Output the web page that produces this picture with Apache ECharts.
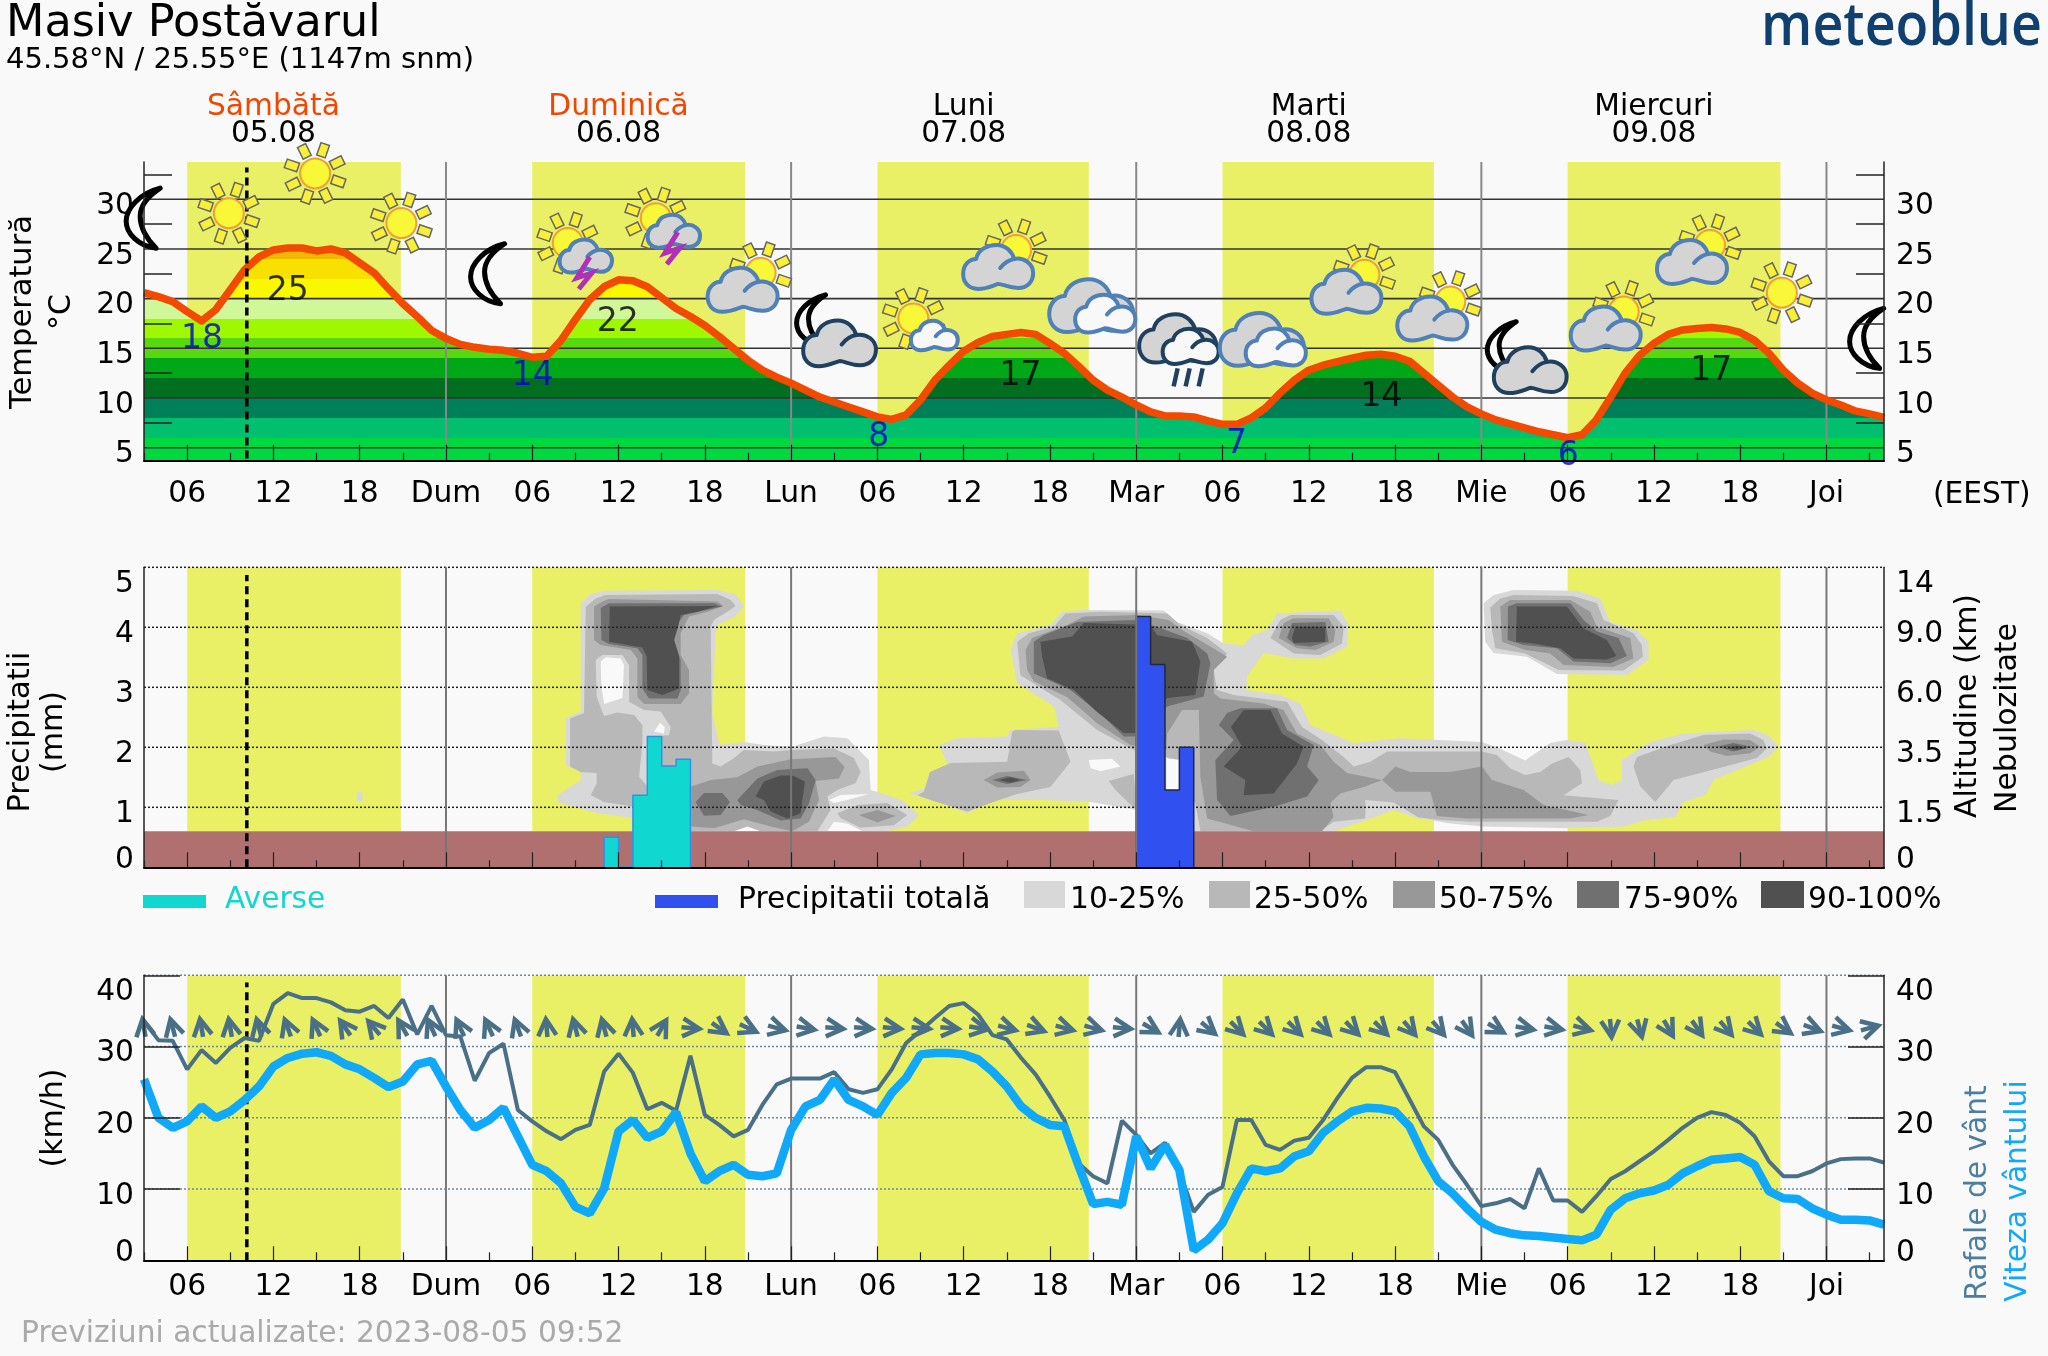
<!DOCTYPE html>
<html><head><meta charset="utf-8">
<style>html,body{margin:0;padding:0;background:#f9f9f9}#c{width:2048px;height:1356px}</style>
<script src="https://cdn.jsdelivr.net/npm/echarts@6/dist/echarts.min.js"></script>
</head><body><div id="c"></div>
<script>
// ---------- time axis ----------
const hours = [];
for (let h = 3; h <= 124; h++) hours.push(h);
const tickLong = [6,12,18,24,30,36,42,48,54,60,66,72,78,84,90,96,102,108,114,120];
const tickShort = [3,9,15,21,27,33,39,45,51,57,63,69,75,81,87,93,99,105,111,117,123];
const hourLabels = {0:'Dum',1:'Lun',2:'Mar',3:'Mie',4:'Joi'};
const midnights = [24,48,72,96,120];
const dayStart = [6,30,54,78,102];
const dayEnd = [20.86,44.8,68.7,92.7,116.8];
const nowHour = 10.15;
const dayHours = [12,36,60,84,108];
const dayNames = ['Sâmbătă','Duminică','Luni','Marti','Miercuri'];
const dayDates = ['05.08','06.08','07.08','08.08','09.08'];
const weekend = [true,true,false,false,false];

// ---------- temperature ----------
const temperature = [
20.6,20.2,19.7,18.7,17.75,18.9,20.9,22.9,24.2,24.9,
25.1,25.1,24.8,25,24.6,23.6,22.6,21,19.5,18.2,
16.8,16,15.4,15.1,14.9,14.8,14.5,14.1,14.2,15.8,
17.9,19.9,21.2,21.9,21.8,21.2,20.1,19,18.2,17.3,
16.2,15,13.8,12.8,12.1,11.5,10.8,10.1,9.6,9.1,
8.6,8.1,7.85,8.3,9.8,11.8,13.3,14.7,15.6,16.2,
16.4,16.6,16.4,15.5,14.5,13.2,11.8,10.8,10.1,9.3,
8.6,8.2,8.2,8.1,7.7,7.35,7.35,8,9,10.5,
11.8,12.8,13.3,13.65,14,14.3,14.4,14.2,13.7,12.5,
11.3,10.1,9.1,8.4,7.8,7.4,7,6.6,6.3,6,
6.3,7.8,10.1,12.5,14.3,15.5,16.4,16.85,17,17.1,
16.95,16.6,15.8,14.5,12.8,11.5,10.5,9.8,9.3,8.7,8.4,8.05];
const tempTicks = [5,10,15,20,25,30];
const tempMinor = [7.5,12.5,17.5,22.5,27.5,32.5];
const tempBandEdges = [-10,6,8,10,12,14,16,18,20,22,24,40];
const tempBandColors = ['#00d840','#00c070','#008058','#007020','#00a818','#58d810','#a0f800','#d0f898','#f8f800','#f8e000','#f0b800'];
const minLabels = [[7.03,15.9,'18'],[30.04,12.2,'14'],[54.1,6.0,'8'],[78.97,5.3,'7'],[102.05,4.1,'6']];
const maxLabels = [[13,20.7,'25'],[35.95,17.6,'22'],[63.95,12.15,'17'],[89.05,10.05,'14'],[111.98,12.65,'17']];
const iconHours = [3.15,8.9,14.9,20.9,27.1,32.47,38.59,45.88,51.37,56.5,63.65,68.94,74.95,80.8,87.87,93.84,99.4,105.9,111.9,116.9,123];
const iconTemps = [28.1,28.6,32.6,27.6,22.5,25.6,28.1,22.6,15.5,18,24.9,19.3,16,15.9,22.4,19.7,12.8,18.7,25.4,20.6,16];
const iconKinds = ['moon','sun','sun','sun','moon','storm','storm','sunCloud','moonCloud','sunWhite','sunCloud','twoClouds','rain','twoClouds','sunCloud','sunCloud','moonCloud','sunCloud','sunCloud','sun','moon'];

// ---------- precipitation ----------
const precipTicks = [0,1,2,3,4,5];
const precipRight = ['0','1.5','3.5','6.0','9.0','14'];
const groundTop = 0.6;
const showers = [[35,0],[35,0.5],[36,0],[37,0],[37,1.2],[38,2.18],[39,1.69],[40,1.8],[41,0]];
const totals = [[72,0],[72,4.18],[73,3.38],[74,1.29],[75,2.0],[76,0]];

// cloud cover contours: [hour, level on the 0-5 scale]
const cloud10 = [
 [[33.37,4.4],[34.07,4.555],[34.99,4.61],[42.87,4.62],[44.14,4.555],[44.72,4.345],[44.14,4.18],[42.87,4.04],[42.75,3.9],[42.52,2.57],[43.03,2.04],[44.72,2.09],[46.11,2.04],[48.08,2.01],[50.28,2.18],[51.91,2.15],[53.41,1.79],[53.53,1.29],[54.69,1.205],[55.84,1.1],[56.89,0.87],[56.08,0.68],[54.69,0.6],[37.08,0.6],[37.08,0.82],[34.53,0.9],[31.75,1.09],[31.75,1.2],[33.37,1.455],[33.37,1.59],[32.33,1.7],[32.33,2.48],[33.37,2.6]],
 [[56.19,1.23],[57.58,1.34],[57.7,1.59],[58.97,1.68],[58.28,2.04],[59.55,2.15],[63.03,2.18],[63.26,2.29],[66.61,2.34],[66.27,2.68],[63.72,3.07],[63.26,3.62],[63.72,3.9],[66.04,4.04],[66.85,4.26],[68.35,4.29],[73.91,4.28],[74.84,4.09],[76.93,3.9],[78.08,3.73],[79.47,3.7],[80.05,3.87],[81.1,3.955],[81.79,4.23],[86.19,4.28],[86.77,4.04],[86.66,3.68],[85.03,3.48],[82.95,3.48],[80.86,3.57],[79.7,3.18],[79.66,2.955],[82.02,2.87],[83.41,2.73],[84.11,2.37],[87.12,2.07],[90.36,2.15],[96.04,2.09],[97.08,2.0],[99.05,1.78],[100.79,2.07],[101.95,2.12],[103.22,2.08],[104.15,1.455],[105.08,1.37],[105.77,1.455],[105.77,1.79],[107.74,2.09],[110.06,2.23],[114.93,2.29],[115.97,2.2],[116.66,2.01],[115.97,1.84],[112.15,1.455],[111.57,1.2],[110.06,1.09],[109.48,0.84],[107.28,0.78],[106,0.68],[102.18,0.65],[96.16,0.68],[93.84,0.73],[91.52,0.82],[89.9,0.955],[88.05,0.79],[85.73,0.6],[76,0.6],[72.06,0.955],[68.82,1.09],[65.57,1.12],[62.56,1.12],[62.1,1.12],[60.25,0.9],[57.93,1.12]],
 [[96.16,4.4],[96.85,4.54],[98.24,4.62],[102.65,4.61],[104.27,4.48],[104.96,4.09],[106.82,3.955],[107.63,3.76],[107.63,3.455],[106.12,3.205],[101.26,3.22],[99.17,3.51],[96.85,3.57],[96.27,3.76]],
 [[17.8,1.1],[18.2,1.1],[18.2,1.25],[17.8,1.25]]
];
const cloud25 = [
 [[33.72,4.34],[34.41,4.48],[35.11,4.54],[42.87,4.555],[43.8,4.455],[44.14,4.355],[43.56,4.26],[42.64,4.12],[42.41,4.01],[42.52,1.73],[43.1,1.68],[44.03,1.82],[44.72,1.955],[46.81,1.93],[48.08,1.955],[50.98,1.98],[52.37,1.82],[52.83,1.59],[52.48,1.4],[51.21,1.29],[50.52,1.18],[50.75,0.955],[49.82,0.6],[37.08,0.6],[37.08,1.01],[34.99,1.09],[34.07,1.2],[34.48,1.4],[34.48,1.57],[33.37,1.59],[32.63,1.68],[32.63,2.48],[33.6,2.57]],
 [[51.21,0.9],[52.6,1.04],[54.69,1.07],[56.08,0.87],[55.15,0.7],[52.83,0.66],[51.44,0.82]],
 [[56.77,1.2],[57.23,1.26],[57.65,1.59],[59.09,1.74],[63.03,1.76],[63.37,2.26],[63.6,2.29],[66.61,2.28],[67.43,1.76],[66.03,1.34],[63.72,1.22],[62.56,1.13],[60.25,0.93],[57.93,1.1]],
 [[70.09,1.44],[71.83,1.555],[72.06,0.955],[71.48,1.07],[70.55,1.29]],
 [[63.72,3.76],[64.53,3.9],[66.27,4.01],[67.08,4.23],[69.51,4.26],[74.15,4.23],[75.07,4.04],[76.93,3.82],[78.32,3.565],[77.39,3.29],[77.62,2.955],[78.78,2.87],[82.49,2.76],[83.53,2.34],[84.92,2.12],[86.43,1.84],[87.12,1.68],[88.28,1.76],[89.44,1.93],[96.04,1.93],[97.08,1.87],[98.01,1.65],[99.05,1.54],[100.1,1.59],[100.91,1.73],[102.07,1.84],[102.88,1.62],[102.99,1.4],[101.72,1.2],[105.54,1.12],[104.96,0.855],[104.04,0.76],[95.23,0.76],[93.15,0.79],[91.64,0.83],[89.9,1.08],[87.93,1.12],[87.93,0.815],[85.73,0.76],[84.8,0.6],[76.46,0.6],[76.11,1.07],[74.15,1.84],[71.83,1.955],[69.28,2.29],[66.73,2.79],[63.95,3.2]],
 [[81.33,3.82],[82.02,4.12],[82.72,4.205],[85.73,4.205],[86.43,4.01],[86.31,3.73],[84.8,3.54],[82.95,3.565]],
 [[96.62,4.33],[97.32,4.48],[98.24,4.54],[102.41,4.52],[104.04,4.4],[104.5,4.12],[106.59,3.9],[107.16,3.705],[107.23,3.51],[105.89,3.28],[101.37,3.29],[99.05,3.565],[96.97,3.65],[96.74,3.955]],
 [[106.58,1.68],[106.82,1.84],[109.13,2.04],[111.45,2.205],[114.69,2.23],[115.62,2.12],[115.85,1.98],[115.16,1.82],[112.03,1.62],[109.36,1.455],[108.09,1.09],[107.05,1.345]]
];
const cloud10Inner = [
 [[34.41,3.455],[34.88,3.54],[36.27,3.54],[36.73,3.37],[36.73,2.76],[37.77,2.62],[38.93,2.595],[39.63,2.34],[39.51,2.2],[38.05,2.18],[38,1.345],[37.43,1.51],[37.66,2.07],[37.66,2.37],[37.08,2.54],[35.92,2.58],[34.99,2.52],[34.48,2.84]]
];
const cloudClear = [
 [[34.76,3.43],[35.11,3.5],[36.15,3.48],[36.38,3.37],[36.27,2.82],[35,2.72],[34.81,3.01]],
 [[38.47,2.26],[38.89,2.41],[39.21,2.34],[39.16,2.23]],
 [[50.63,1.12],[51.44,1.205],[53.41,1.22],[51.91,1.12],[50.98,1.07]],
 [[50.52,0.6],[50.98,0.76],[51.91,0.73],[52.95,0.6]],
 [[44.03,0.6],[44.96,0.68],[45.88,0.6]],
 [[68.7,1.79],[70.32,1.81],[70.9,1.68],[69.51,1.6],[68.82,1.65]],
 [[74.1,1.82],[75.07,1.79],[75.07,1.29],[74.1,1.29]]
];
const cloud50 = [
 [[34.3,4.345],[34.88,4.43],[35.34,4.47],[42.87,4.43],[43.29,4.355],[42.18,4.26],[40.9,4.18],[40.32,3.9],[40.32,3.54],[40.9,3.29],[40.9,2.9],[40.32,2.72],[37.77,2.72],[37.31,2.84],[37.31,3.48],[36.85,3.62],[34.76,3.705],[34.3,3.79]],
 [[41.06,1.345],[42.41,1.455],[44.26,1.5],[45.65,1.68],[47.97,1.8],[51.09,1.84],[51.72,1.67],[51.33,1.48],[49.71,1.44],[49.94,1.12],[49.24,0.76],[48.08,0.6],[46.58,0.68],[44.72,0.8],[42.64,0.65],[41.06,0.68]],
 [[52.72,0.87],[53.99,0.955],[55.27,0.855],[53.99,0.745]],
 [[61.4,1.455],[62.33,1.58],[64.19,1.61],[64.65,1.455],[63.95,1.34],[62.33,1.33]],
 [[64.3,3.62],[64.76,3.82],[67.19,4.04],[68.35,4.18],[72.06,4.205],[74.26,4.12],[75.19,3.955],[77.16,3.68],[78.32,3.51],[77.39,3.29],[77.39,2.9],[77.85,2.815],[80.86,2.73],[82.25,2.62],[83.18,2.23],[84.8,2.04],[85.73,1.76],[86.66,1.57],[89.09,1.455],[87.82,1.34],[86.19,1.23],[85.5,1.07],[85.73,0.84],[84.92,0.6],[80.17,0.6],[76.93,0.815],[76.46,1.51],[76.35,2.62],[75.19,2.62],[74.15,2.23],[74.1,1.955],[71.6,2.04],[69.28,2.4],[67.19,2.84],[64.88,3.1],[64.41,3.29]],
 [[81.91,3.82],[82.25,4.07],[82.95,4.15],[85.38,4.15],[85.85,3.955],[85.73,3.76],[84.46,3.62],[83.18,3.65]],
 [[89.09,1.455],[90.02,1.68],[91.06,1.59],[93.84,1.59],[96.04,1.68],[96.74,1.455],[98.94,1.29],[100.33,1.04],[103.46,0.87],[102.18,0.815],[95,0.815],[92.91,0.855],[92.45,1.26],[90.02,1.26]],
 [[97.32,4.345],[98.01,4.455],[102.18,4.455],[103.57,4.26],[104.04,4.01],[106.35,3.82],[106.58,3.48],[105.19,3.34],[101.72,3.37],[100.79,3.565],[99.05,3.62],[97.43,3.76]],
 [[111.45,2.04],[112.84,2.13],[114.69,2.12],[115.39,2.01],[114.69,1.9],[113.07,1.855],[111.91,1.93]]
];
const cloud75 = [
 [[34.76,4.32],[35.34,4.4],[42.64,4.4],[43.22,4.345],[41.94,4.28],[40.55,4.205],[39.97,4.01],[39.86,3.79],[40.32,3.455],[40.32,2.955],[40.09,2.815],[38.12,2.815],[37.66,2.98],[37.66,3.54],[37.31,3.65],[35.34,3.72],[34.81,3.79]],
 [[41.36,1.09],[41.94,1.24],[43.22,1.24],[43.75,1.09],[43.1,0.87],[41.94,0.86]],
 [[44.26,1.12],[45.65,1.48],[47.04,1.62],[49.13,1.65],[49.71,1.455],[49.24,1.065],[48.66,0.815],[47.27,0.78],[45.65,0.955],[44.49,1.04]],
 [[61.98,1.455],[63.03,1.52],[64.42,1.455],[63.03,1.39]],
 [[64.88,3.76],[65.57,3.87],[67.89,4.09],[71.83,4.12],[73.45,4.01],[75.54,3.82],[76.93,3.565],[77.16,3.4],[76.69,2.845],[74.15,2.68],[72.06,2.18],[71.13,2.18],[69.74,2.51],[67.43,2.955],[64.88,3.23]],
 [[77.74,2.37],[78.32,2.57],[79.24,2.65],[81.79,2.65],[82.49,2.29],[84.34,2.04],[83.88,1.68],[84.69,1.455],[83.88,1.18],[81.56,1.01],[78.55,0.855],[77.62,1.12],[77.5,1.79],[78.78,2.12]],
 [[82.49,3.82],[82.83,4.07],[85.15,4.09],[85.38,3.76],[84.11,3.68],[83.07,3.705]],
 [[97.85,4.345],[98.47,4.4],[102.18,4.4],[103.11,4.12],[104.04,3.93],[105.54,3.82],[106.12,3.52],[104.96,3.4],[102.41,3.43],[101.26,3.65],[98.94,3.705],[97.83,3.79]],
 [[112.38,2.01],[113.53,2.07],[114.81,2.01],[113.53,1.93]]
];
const cloud90 = [
 [[35.39,4.345],[42.87,4.355],[41.48,4.26],[40.32,4.205],[40.14,4.01],[39.86,3.79],[40.21,3.51],[40.21,2.98],[39.05,2.87],[38,2.955],[37.96,3.51],[37.66,3.665],[35.34,3.76]],
 [[45.53,1.18],[46.11,1.43],[47.27,1.53],[48.08,1.53],[48.96,1.43],[48.66,0.9],[47.74,0.815],[46.58,0.93],[46.11,1.12]],
 [[62.45,1.455],[63.26,1.5],[63.95,1.455],[63.26,1.41]],
 [[65.34,3.76],[67.54,3.845],[68.35,4.07],[72.99,4.04],[73.45,3.87],[75.88,3.76],[76.46,3.43],[76.11,2.87],[74.15,2.82],[72.06,2.24],[71.13,2.24],[70.44,2.37],[69.28,2.59],[67.66,2.955],[65.8,3.15],[65.46,3.51]],
 [[78.59,2.34],[79.47,2.62],[81.33,2.62],[82.14,2.23],[83.64,2.01],[83.18,1.73],[81.56,1.23],[79.47,1.2],[79.59,1.455],[78.08,1.68],[79.36,2.01]],
 [[82.83,3.82],[83.07,4.01],[85.15,4.01],[85.15,3.76],[82.95,3.74]],
 [[98.47,4.345],[101.95,4.345],[103.11,3.98],[104.73,3.79],[105.38,3.52],[104.73,3.465],[102.41,3.48],[101.49,3.65],[99.63,3.73],[98.41,3.76]],
 [[112.96,1.99],[113.77,2.03],[114.46,1.99],[113.77,1.96]]
];
const cloudColors = {c10:'#d8d8d8',c25:'#b8b8b8',c50:'#989898',c75:'#707070',c90:'#505050',clear:'#f9f9f9'};

// ---------- wind ----------
const windSpeed = [
25.4,20,18.6,19.5,21.6,20,20.9,22.5,24.4,27.2,
28.4,29,29.2,28.7,27.5,26.8,25.6,24.3,25.1,27.5,
28,24.4,21.1,18.6,19.7,21.4,17.4,13.4,12.5,10.8,
7.5,6.6,10.1,18.1,19.7,17.2,18.1,20.8,15,11.1,
12.5,13.4,12,11.8,12.2,18.3,21.6,22.5,25.4,22.5,
21.6,20.4,23.5,25.6,28.9,29.1,29.1,28.9,28.2,26.5,
24.4,21.6,20,19,18.8,13.2,7.9,8.2,7.8,17.4,
12.9,16.2,12.7,1.4,2.9,5.2,9.4,12.9,12.5,12.9,
14.6,15.3,17.9,19.5,20.9,21.4,21.3,20.9,18.8,14.6,
11.1,9.4,7.3,5.4,4.3,3.8,3.5,3.4,3.2,3,
2.8,3.6,7.1,8.7,9.4,9.8,10.6,12.2,13.2,14.1,
14.3,14.5,13.4,9.7,8.7,8.6,7.3,6.4,5.7,5.7,5.6,5];
const windGust = [
33.6,30.9,30.8,26.8,29.5,27.7,29.8,31.2,30.8,36,
37.5,36.8,36.8,36.2,35.1,34.9,35.7,34,36.6,31.7,
35.7,31.6,31.4,25.2,29.1,30.4,21.1,19.5,18.1,17,
18.3,19,26.5,29,26.3,21.2,22.1,21,28.7,20.4,
19,17.4,18.3,21.8,24.7,25.5,25.5,25.5,26.4,24,
23.5,24,26.8,30.5,32.2,34,35.7,36.1,34.5,31.6,
31,28.4,26.1,23,19.7,13.6,11.8,10.8,19.6,17.6,
15,16.5,12.5,6.8,9.2,10.3,19.7,19.7,16.2,15.5,
16.8,17.2,19.7,22.8,25.6,27.1,27.1,26.4,22.6,18.8,
16.9,13.4,10.6,7.6,8,8.6,7.3,12.9,8.4,8.4,
6.8,9,11.4,12.5,13.9,15.3,16.9,18.6,20,20.8,
20.4,19.3,17.4,13.9,11.8,11.8,12.5,13.6,14.2,14.3,14.3,13.7];
const windTicks = [0,10,20,30,40];
const arrowLevel = 32.6;
// direction each arrow points, degrees counter-clockwise from east, every 2 hours from 03
const arrowDir = [100,105,100,100,105,110,115,125,130,120,115,115,115,110,95,105,105,95,60,
 -5,-35,-25,-15,-10,-5,-5,-5,-5,-5,-10,-15,-20,-15,-15,-5,-30,85,-40,-45,-45,-45,-45,-45,-45,
 -50,-50,-55,-30,-10,-10,-15,-85,-75,-60,-55,-50,-45,-35,-20,-15,15];
const arrowHours = arrowDir.map((d,i)=>3+2*i);

// ---------- geometry of the three panels ----------
const G = [
 {top:162,height:298.7,min:3.69,max:33.75},
 {top:567.3,height:300,min:0,max:5},
 {top:975.3,height:285,min:0,max:40}
];
const FONT = 'DejaVu Sans';
const TEXT = 29.7;
const xMin = 3, xMax = 124;

// ---------- custom series helpers ----------
function bands(i, yLow){
 return {type:'custom',silent:true,yAxisIndex:i*2,z:1,clip:true,
  data:dayStart.map((s,k)=>[s,dayEnd[k]]),
  renderItem(p,api){
   const a=api.coord([api.value(0),G[i].max]),b=api.coord([api.value(1),yLow]);
   return {type:'rect',shape:{x:a[0],y:a[1],width:b[0]-a[0],height:b[1]-a[1]},style:{fill:'#e9f066'}};
  }};
}
function hLines(i,vals,color,width,dash,z){
 return {type:'custom',silent:true,yAxisIndex:i*2,z,
  data:vals.map(v=>[xMin,v]),
  renderItem(p,api){
   const a=api.coord([xMin,api.value(1)]),b=api.coord([xMax,api.value(1)]);
   return {type:'line',shape:{x1:a[0],y1:a[1],x2:b[0],y2:b[1]},style:{stroke:color,lineWidth:width,lineDash:dash}};
  }};
}
function vLines(i,vals,y0,y1,color,width,dash,z){
 return {type:'custom',silent:true,yAxisIndex:i*2,z,
  data:vals.map(v=>[v,y0]),
  renderItem(p,api){
   const a=api.coord([api.value(0),y0]),b=api.coord([api.value(0),y1]);
   return {type:'line',shape:{x1:a[0],y1:a[1],x2:b[0],y2:b[1]},style:{stroke:color,lineWidth:width,lineDash:dash}};
  }};
}
function polys(list,color,z){
 return {type:'custom',silent:true,xAxisIndex:3,yAxisIndex:2,z,
  data:list.map(p=>p[0]),
  renderItem(par,api){
   const pts=list[par.dataIndex].map(q=>api.coord(q));
   return {type:'polygon',shape:{points:pts},style:{fill:color}};
  }};
}

// ---------- weather icons ----------
const cloudD='M -20 22 C -30 22 -35 15 -35 7 C -35 -3 -28 -8 -22 -8 C -20 -18 -10 -22 -2 -22 C 8 -22 14 -15 16 -8 C 26 -10 35 -3 35 6 C 35 16 28 21 20 21 C 10 21 5 17 0 17 C -6 19 -12 22 -20 22 Z';
const hookD='M 2 1 C 6 -4 10 -7 16 -8';
const moonD='M 14 -30 C -6 -25 -20 -10 -20 3 C -20 15 -8 28 10 30 C -2 18 -6 8 -6 -2 C -6 -12 2 -22 14 -30 Z';
const BLUE='#5080b8',DARK='#204060';
function sunEls(){
 const out=[];
 [26,71,116,161,206,251,296,341].forEach(d=>{
  const a=d*Math.PI/180,c=Math.cos(a),s=-Math.sin(a),nx=-s,ny=c,r0=18,r1=31,w=4.5;
  out.push({type:'polygon',shape:{points:[[c*r0+nx*w,s*r0+ny*w],[c*r1+nx*w,s*r1+ny*w],[c*r1-nx*w,s*r1-ny*w],[c*r0-nx*w,s*r0-ny*w]]},style:{fill:'#f8f038',stroke:'#666',lineWidth:1.5}});
 });
 out.push({type:'circle',shape:{cx:0,cy:0,r:15},style:{fill:'#f8f838',stroke:'#f0a030',lineWidth:2}});
 return out;
}
function cloudEl(x,y,sc,fill,stroke){
 return {type:'group',x,y,scaleX:sc,scaleY:sc,children:[
  {type:'path',shape:{pathData:cloudD},style:{fill,stroke,lineWidth:4/sc,lineJoin:'round'}},
  {type:'path',shape:{pathData:hookD},style:{fill:'none',stroke,lineWidth:4/sc,lineCap:'round'}}]};
}
function moonEl(x,y,sc){
 return {type:'group',x,y,scaleX:sc,scaleY:sc,children:[
  {type:'path',shape:{pathData:moonD},style:{fill:'#f9f9f9',stroke:'#000',lineWidth:5/sc,lineJoin:'round'}}]};
}
function iconChildren(kind){
 switch(kind){
  case 'moon': return [moonEl(0,0,1)];
  case 'sun': return sunEls();
  case 'sunCloud': return sunEls().concat([cloudEl(-18,17,1,'#d4d4d4',BLUE)]);
  case 'sunWhite': return sunEls().concat([cloudEl(21,17,0.67,'#f8f8f8',BLUE)]);
  case 'storm': return sunEls().concat([cloudEl(18,13,0.75,'#d4d4d4',BLUE),
    {type:'polyline',shape:{points:[[22,14],[9,35],[24,30],[11,46]]},style:{fill:'none',stroke:'#b030b8',lineWidth:5}}]);
  case 'twoClouds': return [cloudEl(-1,0,1.2,'#d4d4d4',BLUE),cloudEl(13,8,0.86,'#f8f8f8',BLUE)];
  case 'rain': return [cloudEl(-1,0,1.1,'#d4d4d4',DARK),cloudEl(12,8,0.8,'#f8f8f8',DARK),
    {type:'line',shape:{x1:-1,y1:30,x2:-5,y2:48},style:{stroke:DARK,lineWidth:4.5}},
    {type:'line',shape:{x1:11,y1:30,x2:7,y2:48},style:{stroke:DARK,lineWidth:4.5}},
    {type:'line',shape:{x1:24,y1:30,x2:20,y2:48},style:{stroke:DARK,lineWidth:4.5}}];
  case 'moonCloud': return [moonEl(-26,-23,0.85),cloudEl(0,0,1.04,'#d4d4d4',DARK)];
 }
 return [];
}

// ---------- axes ----------
function xPair(grid,labelled,margin,longLen,shortLen){
 const main={type:'value',gridIndex:grid,min:xMin,max:xMax,position:'bottom',z:20,
  axisLine:{show:true,onZero:false,lineStyle:{color:'#000',width:2}},
  axisTick:{show:true,inside:true,length:longLen,customValues:tickLong,lineStyle:{color:'#222',width:1.2}},
  splitLine:{show:false},
  axisLabel:labelled?{show:true,customValues:tickLong,margin,fontSize:TEXT,fontFamily:FONT,color:'#000',hideOverlap:false,
    formatter:v=>v%24===0?hourLabels[v/24-1]:String(v%24).padStart(2,'0')}:{show:false}};
 const minor={type:'value',gridIndex:grid,min:xMin,max:xMax,position:'bottom',z:20,
  axisLine:{show:false},axisLabel:{show:false},splitLine:{show:false},
  axisTick:{show:true,inside:true,length:shortLen,customValues:tickShort,lineStyle:{color:'#222',width:1.2}}};
 return [main,minor];
}
const richStd={fontSize:TEXT,fontFamily:FONT,color:'#000'};
function yAxis(i,pos,labelVals,tickVals,tickLen,fmt,topShift,botShift){
 const g=G[i],last=labelVals[labelVals.length-1],first=labelVals[0];
 return {type:'value',gridIndex:i,min:g.min,max:g.max,position:pos,z:20,
  axisLine:{show:true,onZero:false,lineStyle:{color:'#222',width:1.5}},
  splitLine:{show:false},
  axisTick:tickVals?{show:true,inside:true,length:tickLen,customValues:tickVals,lineStyle:{color:'#222',width:1.5}}:{show:false},
  axisLabel:{show:true,customValues:labelVals,margin:pos==='left'?10:12,fontSize:TEXT,fontFamily:FONT,color:'#000',hideOverlap:false,
   formatter:v=>{
    const t=fmt(v);
    if(v===last&&topShift) return '{t|'+t+'}';
    if(v===first&&botShift) return '{b|'+t+'}';
    return '{m|'+t+'}';
   },
   rich:{m:{...richStd,padding:[14,0,0,0]},t:{...richStd,padding:[34,0,0,0]},b:{...richStd,padding:[0,0,14,0]}}}};
}
const id=v=>String(v);
const xAxes=[
 ...xPair(0,true,19,16,8),
 {type:'value',gridIndex:0,min:xMin,max:xMax,position:'top',axisLine:{show:false},axisTick:{show:false},splitLine:{show:false},
  axisLabel:{show:true,customValues:dayHours,margin:14,hideOverlap:false,
   formatter:v=>{const k=dayHours.indexOf(v);return (weekend[k]?'{o|':'{k|')+dayNames[k]+'}\n{k|'+dayDates[k]+'}';},
   rich:{o:{fontSize:TEXT,fontFamily:FONT,color:'#f04800',lineHeight:27},k:{fontSize:TEXT,fontFamily:FONT,color:'#000',lineHeight:27}}}},
 ...xPair(1,false,0,15,7),
 ...xPair(2,true,12,14,8)
];
// index map: grid0 main 0, minor 1, top 2; grid1 main 3, minor 4; grid2 main 5, minor 6
const yAxes=[
 yAxis(0,'left',tempTicks,tempMinor,28,id,false,false),
 yAxis(0,'right',tempTicks,tempMinor,28,id,false,false),
 yAxis(1,'left',precipTicks,null,0,id,true,true),
 yAxis(1,'right',precipTicks,null,0,v=>precipRight[v],true,true),
 yAxis(2,'left',windTicks,[10,20,30,40],36,id,true,true),
 yAxis(2,'right',windTicks,[10,20,30,40],36,id,true,true)
];

// ---------- series ----------
const S=[];
function xFix(s,x){s.xAxisIndex=x;return s;}
// panel 1
S.push(xFix(bands(0,G[0].min),0));
const areaIndex=S.length;
S.push({type:'line',xAxisIndex:0,yAxisIndex:0,z:2,silent:true,showSymbol:false,
 data:hours.map((h,i)=>[h,temperature[i]]),lineStyle:{width:0},areaStyle:{origin:'start',opacity:1}});
S.push(xFix(hLines(0,tempTicks,'#333',1.6,null,3),0));
S.push(xFix(vLines(0,midnights,G[0].min,G[0].max,'#888',2,null,3),0));
S.push({type:'line',name:'Temperatură',xAxisIndex:0,yAxisIndex:0,z:4,silent:true,showSymbol:false,
 data:hours.map((h,i)=>[h,temperature[i]]),lineStyle:{color:'#f24a00',width:7.5,join:'round'}});
S.push(xFix(vLines(0,[nowHour],3.9,33.2,'#000',3.5,[8,5],5),0));
S.push({type:'custom',silent:true,xAxisIndex:0,yAxisIndex:0,z:6,clip:false,
 data:iconHours.map((h,i)=>[h,iconTemps[i]]),
 renderItem(p,api){
  const c=api.coord([api.value(0),api.value(1)]);
  return {type:'group',x:c[0],y:c[1],children:iconChildren(iconKinds[p.dataIndex])};
 }});
[[minLabels,'#0000d0'],[maxLabels,'#000']].forEach(([arr,col])=>{
 S.push({type:'scatter',xAxisIndex:0,yAxisIndex:0,z:7,silent:true,symbolSize:0,clip:false,
  data:arr.map(a=>[a[0],a[1]]),
  label:{show:true,position:'inside',fontSize:33,fontFamily:FONT,color:col,
   formatter:p=>arr[p.dataIndex][2]}});
});
// panel 2
S.push(xFix(bands(1,groundTop),3));
S.push(polys(cloud10,cloudColors.c10,2));
S.push(polys(cloud25,cloudColors.c25,2));
S.push(polys(cloud10Inner,cloudColors.c10,2));
S.push(polys(cloudClear,cloudColors.clear,2));
S.push(polys(cloud50,cloudColors.c50,2));
S.push(polys(cloud75,cloudColors.c75,2));
S.push(polys(cloud90,cloudColors.c90,2));
S.push({type:'custom',silent:true,xAxisIndex:3,yAxisIndex:2,z:3,data:[[xMin,0]],
 renderItem(p,api){
  const a=api.coord([xMin,groundTop]),b=api.coord([xMax,0]);
  return {type:'rect',shape:{x:a[0],y:a[1],width:b[0]-a[0],height:b[1]-a[1]},style:{fill:'#b07070'}};
 }});
S.push(xFix(hLines(1,[1,2,3,4,5],'#222',1.5,[2,2],4),3));
S.push({type:'line',name:'Precipitatii totală',xAxisIndex:3,yAxisIndex:2,z:5,silent:true,showSymbol:false,step:'end',
 data:totals,lineStyle:{color:'#202840',width:1.5},areaStyle:{color:'#3050f0',opacity:1,origin:'start'}});
S.push({type:'line',name:'Averse',xAxisIndex:3,yAxisIndex:2,z:5,silent:true,showSymbol:false,step:'end',
 data:showers,lineStyle:{color:'#3090e8',width:1.5},areaStyle:{color:'#10d8d0',opacity:1,origin:'start'}});
S.push(xFix(vLines(1,midnights,0,5,'#777',2,null,6),3));
S.push(xFix(vLines(1,[nowHour],0,4.87,'#000',3.5,[8,5],7),3));
// panel 3
S.push(xFix(bands(2,0),5));
S.push(xFix(hLines(2,[10,20,30,40],'#6a8aa0',1.5,[2,2],2),5));
S.push(xFix(vLines(2,midnights,0,40,'#777',2,null,2),5));
S.push({type:'custom',silent:true,xAxisIndex:5,yAxisIndex:4,z:3,clip:false,
 data:arrowHours.map(h=>[h,arrowLevel]),
 renderItem(p,api){
  const c=api.coord([api.value(0),api.value(1)]);
  const a=arrowDir[p.dataIndex]*Math.PI/180,L=9;
  const tip=[c[0]+L*Math.cos(a),c[1]-L*Math.sin(a)],tail=[c[0]-L*Math.cos(a),c[1]+L*Math.sin(a)];
  const wing=s=>[tip[0]-19*Math.cos(a+s),tip[1]+19*Math.sin(a+s)];
  const st={fill:'none',stroke:'#4a7088',lineWidth:4.5};
  return {type:'group',children:[
   {type:'line',shape:{x1:tail[0],y1:tail[1],x2:tip[0],y2:tip[1]},style:st},
   {type:'polyline',shape:{points:[wing(0.5),tip,wing(-0.5)]},style:st}]};
 }});
S.push({type:'line',name:'Rafale de vânt',xAxisIndex:5,yAxisIndex:4,z:4,silent:true,showSymbol:false,
 data:hours.map((h,i)=>[h,windGust[i]]),lineStyle:{color:'#4a7088',width:4}});
S.push({type:'line',name:'Viteza vântului',xAxisIndex:5,yAxisIndex:4,z:5,silent:true,showSymbol:false,
 data:hours.map((h,i)=>[h,windSpeed[i]]),lineStyle:{color:'#10a8f8',width:8.5}});
S.push(xFix(vLines(2,[nowHour],0,39,'#000',3.5,[8,5],3),5));

// ---------- page text and legend ----------
function txt(text,x,y,size,color,align,rot,extra,scale){
 const el={type:'text',x,y,rotation:rot||0,z:30,silent:true,
  style:Object.assign({text,fontSize:size,fontFamily:FONT,fill:color||'#000',textAlign:align||'left',textVerticalAlign:'middle'},extra||{})};
 if(scale){el.scaleX=scale[0];el.scaleY=scale[1];}
 return el;
}
function swatch(x,w,y,h,fill){return {type:'rect',shape:{x,y,width:w,height:h},style:{fill},z:30,silent:true};}
const R=Math.PI/2;
const graphics=[
 txt('Masiv Postăvarul',6,24,44.5),
 txt('45.58°N / 25.55°E (1147m snm)',6,60,29),
 txt('meteoblue',2042,28,56,'#104070','right',0,{fontFamily:'Open Sans',fontWeight:600},[0.96,1.06]),
 txt('(EEST)',1933,495,TEXT),
 txt('Temperatură',23,312,30.5,'#000','center',R),
 txt('°C',62,312,30,'#000','center',R),
 txt('Precipitatii',21,732,30.5,'#000','center',R),
 txt('(mm)',54,732,30,'#000','center',R),
 txt('Altitudine (km)',1968,706,30,'#000','center',R),
 txt('Nebulozitate',2008,718,30,'#000','center',R),
 txt('(km/h)',54,1118,30,'#000','center',R),
 txt('Rafale de vânt',1978,1193,29.7,'#4a7fa0','center',R),
 txt('Viteza vântului',2018,1191,29.7,'#10a8f8','center',R),
 swatch(143,63,895,13,'#10d8d0'),
 txt('Averse',225,900,TEXT,'#10d8d0'),
 swatch(655,63,895,13,'#3050f0'),
 txt('Precipitatii totală',738,900,TEXT),
 swatch(1024,41,881,27,cloudColors.c10),txt('10-25%',1070,900,TEXT),
 swatch(1209,41,881,27,cloudColors.c25),txt('25-50%',1254,900,TEXT),
 swatch(1393,42,881,27,cloudColors.c50),txt('50-75%',1439,900,TEXT),
 swatch(1577,42,881,27,cloudColors.c75),txt('75-90%',1624,900,TEXT),
 swatch(1761,43,881,27,cloudColors.c90),txt('90-100%',1808,900,TEXT),
 txt('Previziuni actualizate: 2023-08-05 09:52',21,1334,TEXT,'#aaaaaa')
];

const pieces=tempBandColors.map((c,i)=>({gte:tempBandEdges[i],lt:tempBandEdges[i+1],color:c}));
const chart=echarts.init(document.getElementById('c'),null,{renderer:'canvas',width:2048,height:1356});
chart.setOption({
 backgroundColor:'#f9f9f9',animation:false,tooltip:{show:false},
 grid:G.map(g=>({left:144,right:164,top:g.top,height:g.height,containLabel:false})),
 xAxis:xAxes,yAxis:yAxes,
 visualMap:[{type:'piecewise',show:false,seriesIndex:areaIndex,dimension:1,pieces}],
 series:S,
 graphic:{elements:graphics}
});
</script></body></html>
